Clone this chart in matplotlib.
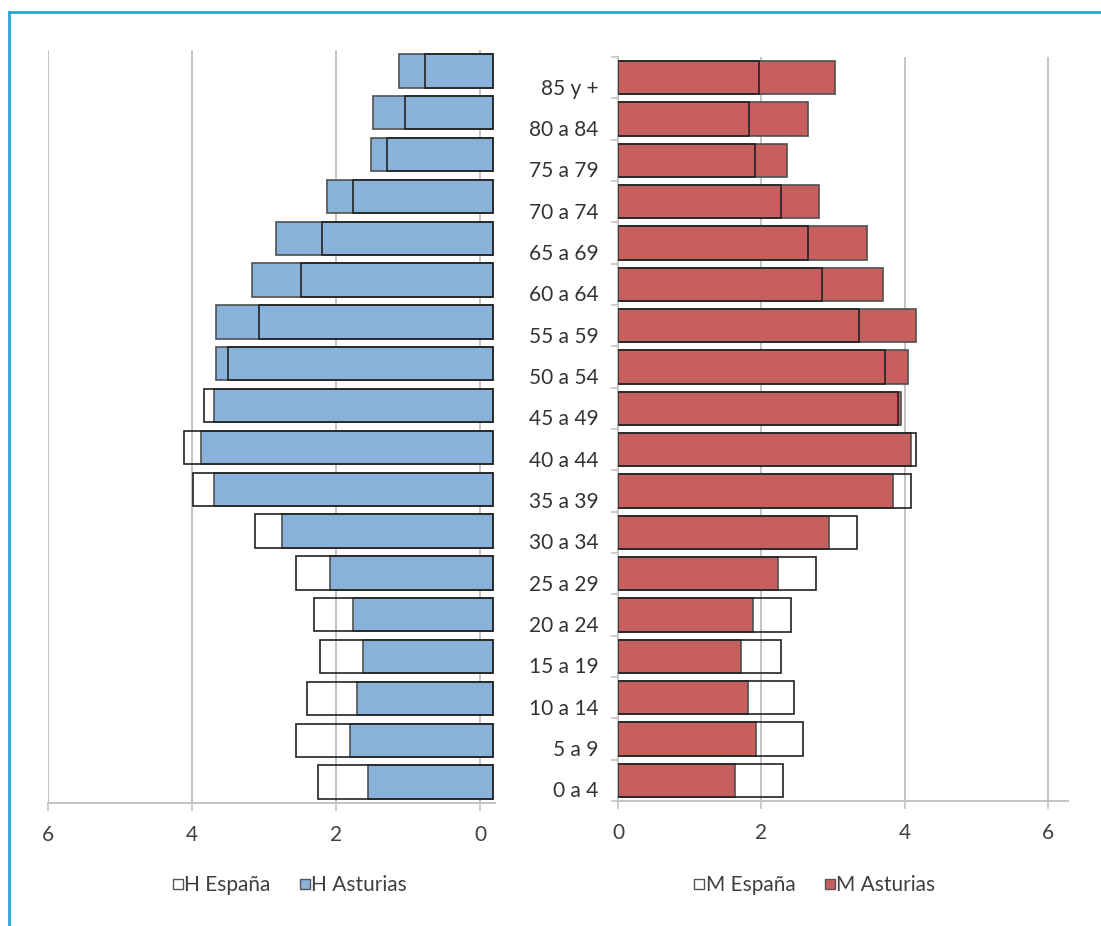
import matplotlib
matplotlib.use("Agg")
import matplotlib.pyplot as plt
from matplotlib.lines import Line2D
from matplotlib.transforms import ScaledTranslation
import numpy as np

plt.rcParams['font.family'] = ['Lato', 'DejaVu Sans']

# age groups, bottom to top
ages = ["0 a 4", "5 a 9", "10 a 14", "15 a 19", "20 a 24", "25 a 29", "30 a 34",
        "35 a 39", "40 a 44", "45 a 49", "50 a 54", "55 a 59", "60 a 64",
        "65 a 69", "70 a 74", "75 a 79", "80 a 84", "85 y +"]

# % of population, men
h_espana = [2.25, 2.56, 2.40, 2.22, 2.31, 2.56, 3.13, 3.99, 4.11, 3.84, 3.50,
            3.07, 2.49, 2.19, 1.76, 1.29, 1.04, 0.76]
h_asturias = [1.55, 1.80, 1.71, 1.63, 1.76, 2.08, 2.75, 3.70, 3.88, 3.69, 3.66,
              3.66, 3.17, 2.83, 2.13, 1.52, 1.49, 1.12]
# % of population, women
m_espana = [2.30, 2.58, 2.45, 2.28, 2.41, 2.76, 3.33, 4.09, 4.16, 3.91, 3.73,
            3.36, 2.85, 2.65, 2.27, 1.91, 1.83, 1.97]
m_asturias = [1.63, 1.92, 1.81, 1.72, 1.88, 2.23, 2.94, 3.84, 4.08, 3.94, 4.04,
              4.16, 3.69, 3.47, 2.80, 2.36, 2.65, 3.03]

ticks = [0, 2, 4, 6]

blue = '#88B2DA'
red = '#C65F5E'
grid_c = '#C4C4C4'
text_c = '#404040'
BASE_OFFSET = 0.18  # left bars start a little right of the 0 line

W, H = 1101, 926
fig = plt.figure(figsize=(W / 100, H / 100), dpi=100)

ax_h = fig.add_axes([48 / W, 1 - 803 / H, 447 / W, 753 / H])
ax_m = fig.add_axes([618 / W, 1 - 801 / H, 450 / W, 744 / H])

y = np.arange(len(ages))
bh = 0.8

ax_h.barh(y, np.array(h_asturias) + BASE_OFFSET, left=-BASE_OFFSET, height=bh,
          color=blue, edgecolor='#505050', linewidth=1.2, zorder=2)
ax_h.barh(y, np.array(h_espana) + BASE_OFFSET, left=-BASE_OFFSET, height=bh,
          fill=False, edgecolor='#222222', linewidth=1.2, zorder=3)
ax_h.set_xlim(6, -0.208)

ax_m.barh(y, m_asturias, height=bh, color=red, edgecolor='#505050',
          linewidth=1.2, zorder=2)
ax_m.barh(y, m_espana, height=bh, fill=False, edgecolor='#222222',
          linewidth=1.2, zorder=3)
ax_m.set_xlim(0, 6.276)

for ax in (ax_h, ax_m):
    ax.set_ylim(-0.5, len(ages) - 0.5)
    ax.set_xticks(ticks)
    ax.set_xticklabels([str(t) for t in ticks])
    ax.tick_params(axis='x', direction='out', length=6, width=1.2,
                   color=grid_c, labelsize=15, labelcolor=text_c, pad=10)
    ax.grid(axis='x', color=grid_c, linewidth=1.4, zorder=0)
    ax.set_axisbelow(True)
    for s in ('top', 'right', 'left'):
        ax.spines[s].set_visible(False)
    ax.spines['bottom'].set_color(grid_c)
    ax.spines['bottom'].set_linewidth(1.4)

ax_h.set_yticks([])

# right panel: category ticks at boundaries, labels at centres
ax_m.spines['left'].set_visible(True)
ax_m.spines['left'].set_color(grid_c)
ax_m.spines['left'].set_linewidth(1.4)
ax_m.set_yticks(np.arange(len(ages) + 1) - 0.5)
ax_m.set_yticklabels([])
ax_m.tick_params(axis='y', which='major', direction='out', length=5,
                 width=1.2, color=grid_c)
ax_m.set_yticks(y, minor=True)
ax_m.set_yticklabels(ages, minor=True)
ax_m.tick_params(axis='y', which='minor', length=0, pad=14, labelsize=15,
                 labelcolor='#333333')
for lab in ax_m.get_yticklabels(minor=True):
    lab.set_transform(lab.get_transform() +
                      ScaledTranslation(0, -0.09, fig.dpi_scale_trans))

# legends
def handle(fc):
    return Line2D([], [], linestyle='none', marker='s', markersize=7,
                  markerfacecolor=fc, markeredgecolor='#555555',
                  markeredgewidth=1.0)

leg_kw = dict(loc='center', ncol=2, frameon=False, fontsize=15,
              handlelength=0.45, handletextpad=0.1, columnspacing=1.4,
              labelcolor=text_c)
fig.legend([handle('white'), handle(blue)], ['H España', 'H Asturias'],
           bbox_to_anchor=(290 / W, 1 - 885 / H), **leg_kw)
fig.legend([handle('white'), handle(red)], ['M España', 'M Asturias'],
           bbox_to_anchor=(815 / W, 1 - 885 / H), **leg_kw)

# frame on top and left edges
frame_c = '#2AA7D3'
fig.add_artist(Line2D([9 / W, 9 / W], [0, 1 - 12 / H], color=frame_c,
                      linewidth=2, transform=fig.transFigure))
fig.add_artist(Line2D([9 / W, 1], [1 - 12 / H, 1 - 12 / H], color=frame_c,
                      linewidth=2, transform=fig.transFigure))

fig.savefig('out.png', dpi=100, facecolor='white')
